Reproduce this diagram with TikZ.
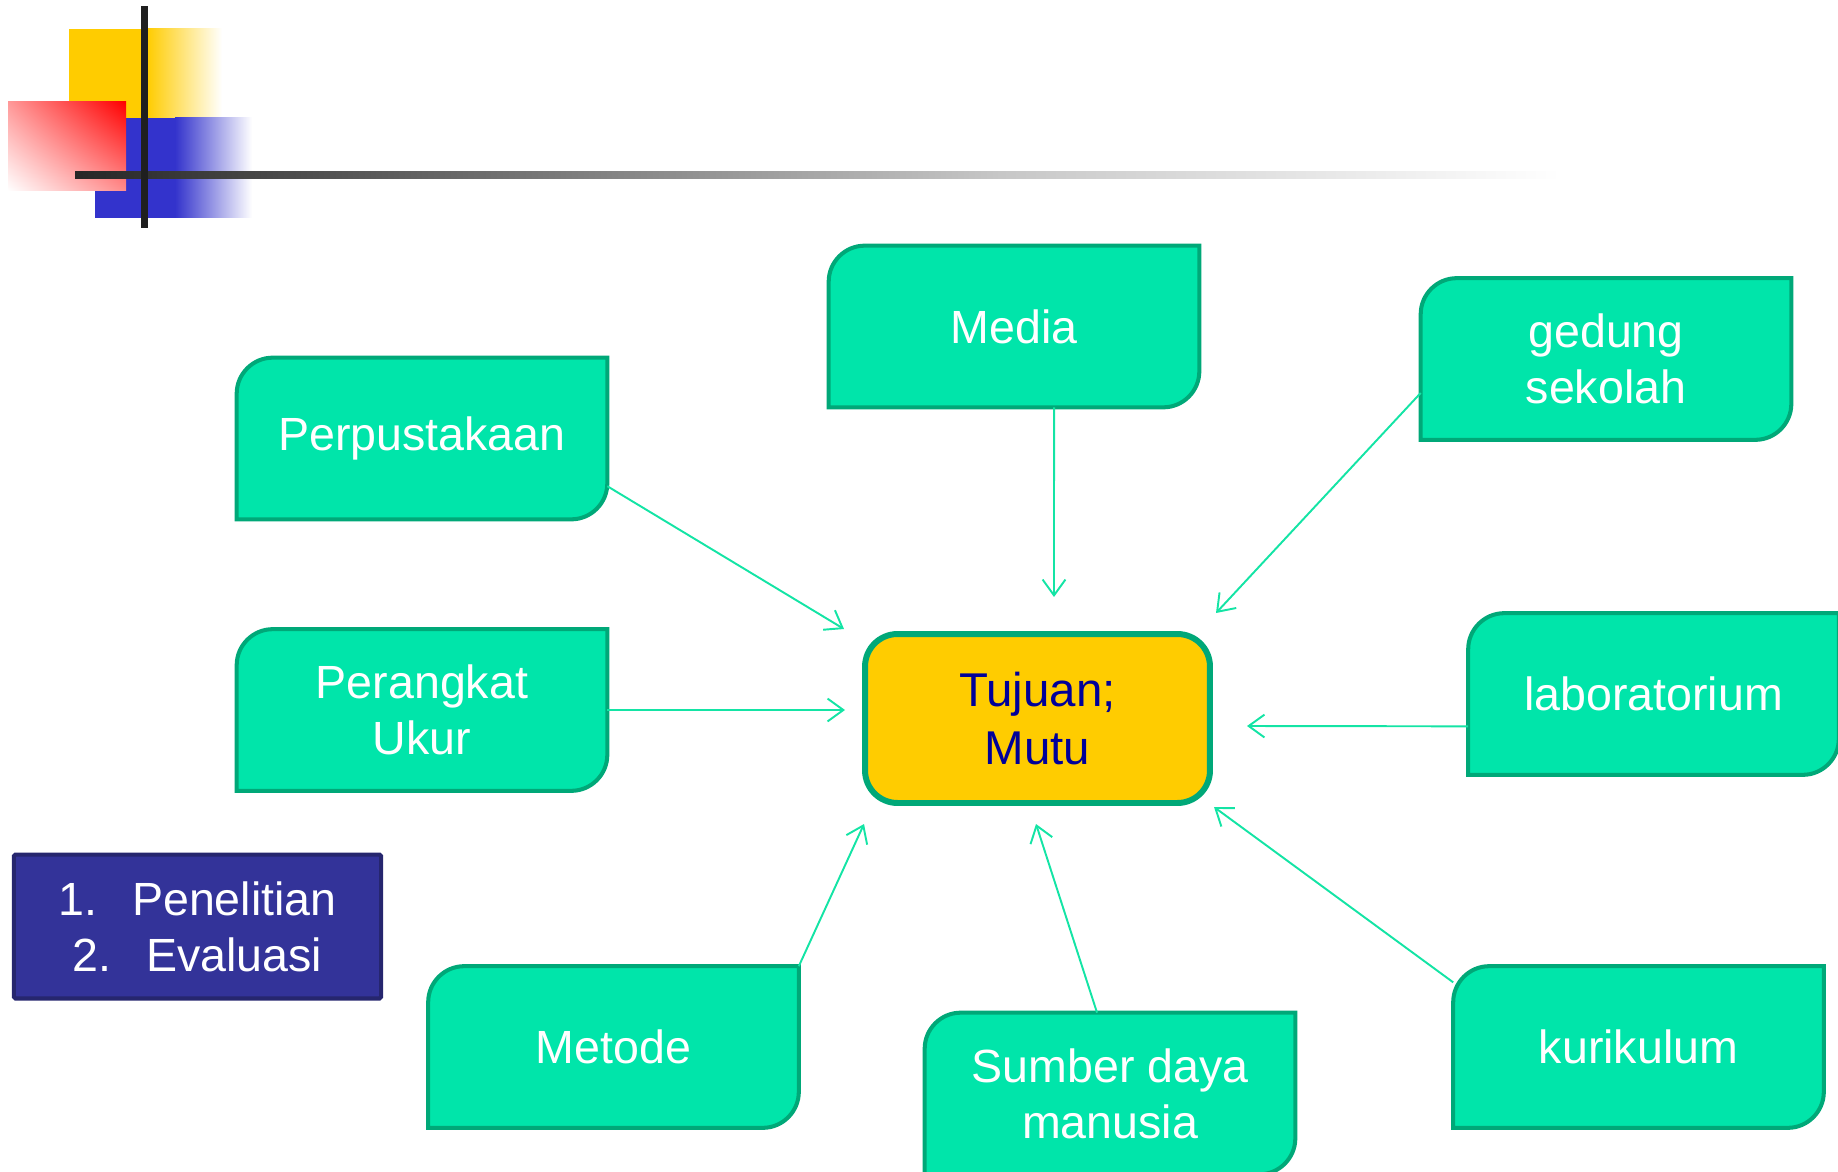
\documentclass[tikz,border=0pt]{standalone}
\usepackage{fontspec}
\setmainfont{Liberation Sans}
\usetikzlibrary{calc,backgrounds,arrows.meta,shadings}

% contorno de tarjeta: esquinas redondeadas arriba-izquierda y abajo-derecha
\newcommand{\cardshape}[1]{%
  \draw[cardstyle] ($(#1.north west)+(0,\R)$)
      .. controls ($(#1.north west)+(0,0.45*\R)$) and ($(#1.north west)+(0.45*\R,0)$) .. ($(#1.north west)+(\R,0)$)
    -- (#1.north east) -- ($(#1.south east)+(0,-\R)$)
      .. controls ($(#1.south east)+(0,-0.45*\R)$) and ($(#1.south east)+(-0.45*\R,0)$) .. ($(#1.south east)+(-\R,0)$)
    -- (#1.south west) -- cycle;}

\begin{document}
\begin{tikzpicture}[x=0.02cm, y=-0.02cm]
		% Colores
		\definecolor{cardfill}{RGB}{0, 229, 170}
		\definecolor{cardline}{RGB}{0, 168, 120}
		\definecolor{arrowcol}{RGB}{20, 228, 165}
		\definecolor{goalfill}{RGB}{255, 204, 0}
		\definecolor{goaltext}{RGB}{0, 0, 153}
		\definecolor{listfill}{RGB}{51, 51, 153}
		\definecolor{listline}{RGB}{38, 38, 110}
		\definecolor{decoyellow}{RGB}{255, 204, 0}
		\definecolor{decoblue}{RGB}{51, 51, 204}
		\def\R{36} % radio de esquina
		
		\useasboundingbox (0,0) rectangle (1838,1172);
		
		\tikzset{
			card/.style={minimum width=7.4cm, minimum height=3.22cm, inner sep=0pt, align=center,
				text=white, font=\fontsize{26.5}{32}\selectfont},
			cardstyle/.style={fill=cardfill, draw=cardline, line width=2.3pt},
			flow/.style={draw=arrowcol, line width=1.1pt, -{Straight Barb[length=9pt, width=13pt]}}
		}
		
		% --- Decoración (arriba izquierda) ---
		\fill[decoyellow] (69,29) rectangle (147,118);
		\shade[left color=decoyellow, right color=white] (147,29) rectangle (222,118);
		\fill[decoblue] (95,118) rectangle (175,218);
		\shade[left color=decoblue, right color=white] (175,118) rectangle (252,218);
		\shade[upper right=red, lower left=white, upper left=red!40!white, lower right=red!45!white] (8,102) rectangle (126,191);
		\shade[left color=black!85, right color=black!22] (75,172) rectangle (1000,179);
		\shade[left color=black!22, right color=white] (1000,172) rectangle (1560,179);
		\fill[black!88] (141,6) rectangle (148,228);
		
		% --- Tarjetas ---
		\node[card] (media) at (1014,326.5) {Media};
		\node[card] (gedung) at (1606,359) {gedung\\sekolah};
		\node[card] (perp) at (422,438.5) {Perpustakaan};
		\node[card] (ukur) at (422,710) {Perangkat\\Ukur};
		\node[card] (lab) at (1653.5,694) {laboratorium};
		\node[card] (metode) at (613.5,1047) {Metode};
		\node[card] (sdm) at (1110,1093.5) {Sumber daya\\manusia};
		\node[card] (kuri) at (1638.5,1047) {kurikulum};
		\begin{scope}[on background layer]
			\foreach \c in {media,gedung,perp,ukur,lab,metode,sdm,kuri} {\cardshape{\c}}
		\end{scope}
		
		% --- Centro ---
		\node[draw=cardline, fill=goalfill, line width=3.4pt, rounded corners=0.65cm,
			minimum width=6.9cm, minimum height=3.38cm, align=center, text=goaltext,
			font=\fontsize{27}{33}\selectfont] (goal) at (1037.5,718.5) {Tujuan;\\Mutu};
		
		% --- Lista ---
		\node[draw=listline, fill=listfill, line width=2.3pt, rounded corners=1pt,
			minimum width=7.35cm, minimum height=2.88cm, align=center, text=white,
			font=\fontsize{26.5}{32}\selectfont] (list) at (197.5,926.5)
			{1.\hspace{0.75em}Penelitian\\2.\hspace{0.75em}Evaluasi};
		
		% --- Puntas de flecha ---
		\coordinate (tPerp) at (844,629);
		\coordinate (tMedia) at (1054,597);
		\coordinate (tGedung) at (1216,613);
		\coordinate (tUkur) at (845,710);
		\coordinate (tLab) at (1247,726);
		\coordinate (tKuri) at (1214,807);
		\coordinate (tSdm) at (1036,824);
		\coordinate (tMetode) at (864,824);
		
		% --- Flechas ---
		\draw[flow] ($(perp.east)!0.59!(perp.south east)$) -- (tPerp);
		\draw[flow] ($(media.south)!0.216!(media.south east)$) -- (tMedia);
		\draw[flow] ($(gedung.west)!0.42!(gedung.south west)$) -- (tGedung);
		\draw[flow] (ukur.east) -- (tUkur);
		\draw[flow] ($(lab.west)!0.4!(lab.south west)$) -- (tLab);
		\draw[flow] ($(kuri.west)!0.8!(kuri.north west)$) -- (tKuri);
		\draw[flow] ($(sdm.north)!0.07!(sdm.north west)$) -- (tSdm);
		\draw[flow] (metode.north east) -- (tMetode);
		
	\end{tikzpicture}
\end{document}
